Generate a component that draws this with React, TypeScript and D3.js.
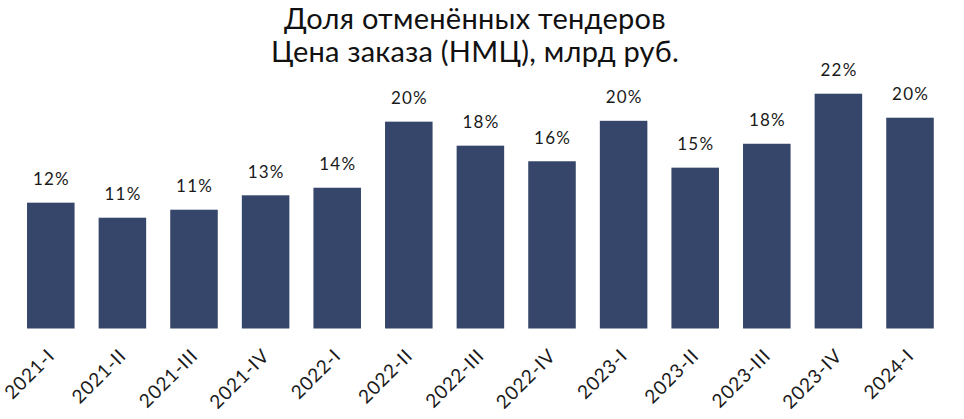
import React from "react";
import * as d3 from "d3";

const categories = ["2021-I","2021-II","2021-III","2021-IV","2022-I","2022-II","2022-III","2022-IV","2023-I","2023-II","2023-III","2023-IV","2024-I"];
const values = [11.79, 10.38, 11.13, 12.48, 13.19, 19.38, 17.13, 15.67, 19.46, 15.07, 17.31, 22.0, 19.75];
const valueLabels = ["12%","11%","11%","13%","14%","20%","18%","16%","20%","15%","18%","22%","20%"];
const titleLines = ["Доля отменённых тендеров", "Цена заказа (НМЦ), млрд руб."];

const W = 964, H = 419;

export default function App() {
  const x = d3.scaleBand<string>().domain(categories).range([15, 945.8]).paddingInner(0.336).paddingOuter(0.168);
  const y = d3.scaleLinear().domain([0, 22]).range([328.5, 93.7]);
  const bw = x.bandwidth();
  return (
    <svg width={W} height={H} style={{ position: "absolute", left: 0, top: 0, background: "#fff" }}>
      {titleLines.map((t, i) => (
        <text key={i} x={475} y={28.5 + i * 33.3} textAnchor="middle" fontFamily="Lato, sans-serif" fontSize={29} letterSpacing={0.25} fill="#111">{t}</text>
      ))}
      {categories.map((c, i) => (
        <g key={c}>
          <rect x={x(c)} y={y(values[i])} width={bw} height={y(0) - y(values[i])} fill="#36466b" />
          <text x={(x(c) as number) + bw / 2 + 0.6} y={y(values[i]) - 17.5} textAnchor="middle" fontFamily="Lato, sans-serif" fontSize={17} letterSpacing={1.2} fill="#1a1a1a">{valueLabels[i]}</text>
          <text transform={`translate(${(x(c) as number) + bw / 2 + 5},${357}) rotate(-45)`} textAnchor="end" fontFamily="Lato, sans-serif" fontSize={19} letterSpacing={0.8} fill="#1a1a1a">{c}</text>
        </g>
      ))}
    </svg>
  );
}
